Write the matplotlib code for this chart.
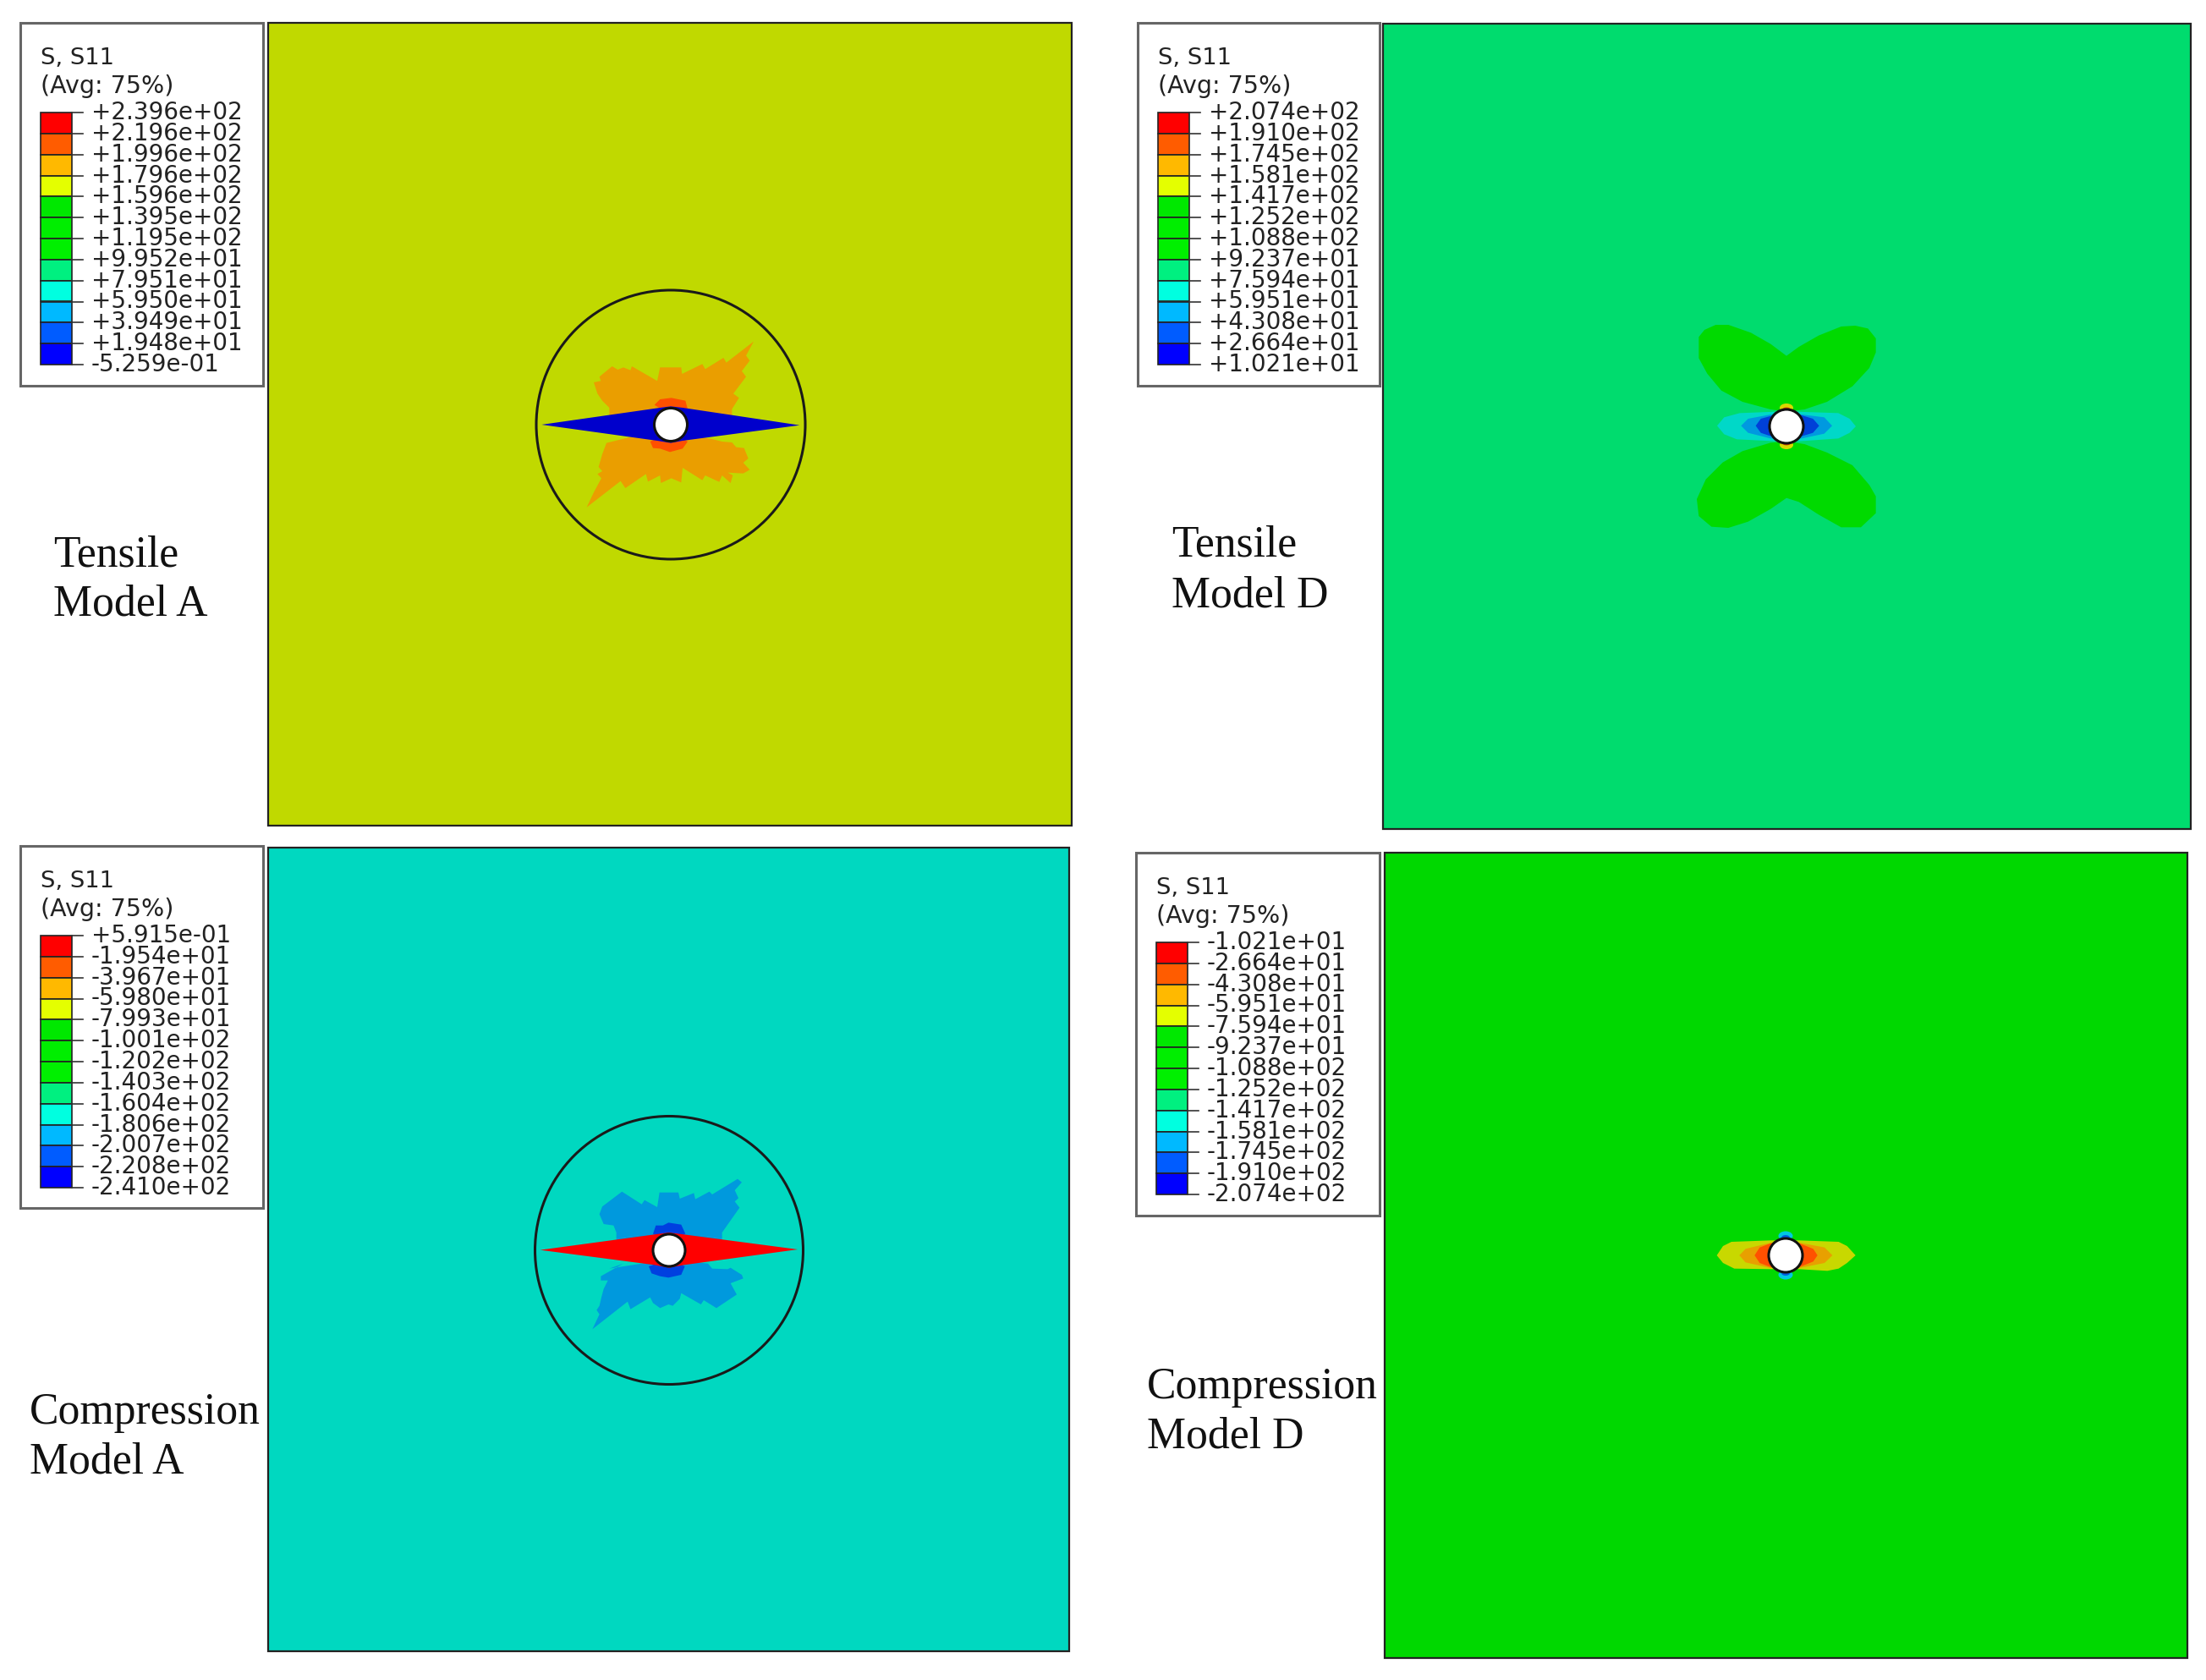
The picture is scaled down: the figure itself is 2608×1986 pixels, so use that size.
import matplotlib
matplotlib.use("Agg")
import matplotlib.pyplot as plt
from matplotlib.patches import Rectangle, Polygon, Circle, Ellipse

W, H = 2608, 1986
title_1 = "S, S11"
title_2 = "(Avg: 75%)"

labels_ta = ["+2.396e+02","+2.196e+02","+1.996e+02","+1.796e+02","+1.596e+02","+1.395e+02","+1.195e+02",
             "+9.952e+01","+7.951e+01","+5.950e+01","+3.949e+01","+1.948e+01","-5.259e-01"]
labels_td = ["+2.074e+02","+1.910e+02","+1.745e+02","+1.581e+02","+1.417e+02","+1.252e+02","+1.088e+02",
             "+9.237e+01","+7.594e+01","+5.951e+01","+4.308e+01","+2.664e+01","+1.021e+01"]
labels_ca = ["+5.915e-01","-1.954e+01","-3.967e+01","-5.980e+01","-7.993e+01","-1.001e+02","-1.202e+02",
             "-1.403e+02","-1.604e+02","-1.806e+02","-2.007e+02","-2.208e+02","-2.410e+02"]
labels_cd = ["-1.021e+01","-2.664e+01","-4.308e+01","-5.951e+01","-7.594e+01","-9.237e+01","-1.088e+02",
             "-1.252e+02","-1.417e+02","-1.581e+02","-1.745e+02","-1.910e+02","-2.074e+02"]
band_colors = ["#ff0000","#ff5c00","#ffb900","#e4ff00","#00e800","#00ee00","#00f000",
               "#00f080","#00ffe0","#00b9ff","#005cff","#0000ff"]

ta_orange_up = [(245,365),(270,360),(265,345),(310,308),(330,320),(350,312),(375,322),(380,308),(470,360),(480,312),
                (555,312),(558,335),(630,300),(640,318),(705,278),(715,295),(812,220),(785,270),(798,288),(770,325),
                (785,345),(740,405),(760,420),(735,460),(735,483),(518,490),(300,483),(300,455),(275,430),(258,405)]
ta_orange_lo = [(290,580),(275,620),(262,665),(275,680),(258,690),(272,705),(245,755),(220,808),(340,715),(357,740),
                (430,690),(437,717),(480,695),(483,722),(520,705),(555,720),(560,668),(630,712),(640,695),(690,718),
                (700,695),(730,722),(738,695),(720,685),(775,688),(798,675),(775,650),(793,635),(778,598),(750,595),
                (735,578),(700,575),(660,565),(518,540),(370,560)]
ta_red_up = [(460,445),(480,425),(520,420),(570,430),(578,460),(518,480)]
ta_red_lo = [(445,575),(455,598),(480,600),(515,612),(560,600),(578,575),(518,540)]
ta_diamond = [(60,515),(480,455),(518,450),(560,455),(975,517),(560,572),(518,580),(470,572)]

ca_blue_up = [(265,375),(275,348),(345,295),(415,340),(425,325),(470,350),(478,298),(545,298),(550,320),(600,300),
              (605,322),(655,295),(665,305),(755,250),(770,262),(745,290),(758,318),(745,330),(762,352),(700,440),
              (700,470),(512,480),(325,470),(325,440),(315,415),(280,410)]
ca_blue_lo = [(300,568),(350,550),(270,595),(270,610),(295,610),(280,640),(272,670),(265,700),(255,715),(265,730),
              (240,783),(365,685),(375,712),(445,670),(455,690),(480,708),(510,695),(525,700),(550,675),(555,655),
              (625,695),(635,680),(680,708),(752,660),(730,620),(775,603),(770,590),(730,565),(720,570),(665,568),
              (650,550),(512,535)]
ca_dark_up = [(455,445),(465,415),(490,415),(510,405),(555,412),(570,445),(512,470)]
ca_dark_lo = [(440,560),(450,585),(480,595),(510,600),(555,590),(568,560),(512,535)]
ca_diamond = [(55,502),(460,447),(512,440),(565,447),(968,500),(565,555),(512,565),(460,555)]

td_lobe_up = [(456,182),(400,140),(330,100),(250,72),(205,72),(165,90),(145,115),(145,190),(175,245),(225,305),
              (300,345),(400,372),(456,380),(520,372),(600,345),(690,290),(750,225),(773,170),(773,120),(745,85),
              (700,75),(650,78),(570,110),(500,150)]
td_lobe_lo = [(456,686),(400,725),(320,770),(250,792),(190,788),(145,750),(138,690),(170,620),(230,560),(300,520),
              (400,490),(456,485),(520,495),(600,525),(690,570),(750,640),(773,680),(773,740),(720,790),(650,790),
              (570,745),(500,700)]
td_cyan = [(210,430),(235,400),(290,385),(420,380),(490,380),(640,385),(680,405),(702,432),(680,455),(640,475),
           (500,485),(420,485),(280,478),(235,460)]
td_blue = [(295,430),(320,405),(400,390),(510,390),(590,400),(618,430),(590,458),(510,475),(400,475),(320,455)]
td_dark = [(347,430),(365,405),(420,390),(500,390),(550,405),(572,430),(550,455),(500,470),(410,470),(365,455)]

cd_yellow = [(88,163),(110,130),(140,115),(280,110),(380,110),(520,115),(550,130),(580,163),(550,190),(520,210),
             (480,218),(380,212),(280,212),(150,210),(110,190)]
cd_orange = [(168,163),(190,140),(280,118),(380,118),(470,135),(498,163),(470,190),(380,208),(280,208),(190,188)]
cd_red = [(222,163),(240,135),(280,120),(380,120),(430,140),(445,163),(430,185),(380,205),(280,205),(240,190)]

fig = plt.figure(figsize=(W/100, H/100), dpi=100, facecolor="white")
ax = fig.add_axes([0, 0, 1, 1])
ax.set_xlim(0, W); ax.set_ylim(H, 0); ax.axis("off")


def panel(x0, y0, x1, y1, color):
    ax.add_patch(Rectangle((x0, y0), x1-x0, y1-y0, fc=color, ec="#222222", lw=1.6, zorder=1))


def outline(pts, o, c, color, z=3):
    ax.add_patch(Polygon([(c[0]+(x-o[0])/3, c[1]+(y-o[1])/3) for x, y in pts], closed=True,
                         fc=color, ec="none", zorder=z))


def blob(c, dx, dy, w, h, color, z=3):
    ax.add_patch(Ellipse((c[0]+dx, c[1]+dy), w, h, fc=color, ec="none", zorder=z))


def hole(c, r):
    ax.add_patch(Circle(c, r, fc="white", ec="#111111", lw=2.2, zorder=8))


def ring(c, r):
    ax.add_patch(Circle(c, r, fc="none", ec="#1a1a1a", lw=2.2, zorder=7))


def legend(x0, y0, x1, y1, labels):
    ax.add_patch(Rectangle((x0, y0), x1-x0, y1-y0, fc="white", ec="#666666", lw=2.2, zorder=9))
    bx, by, bw, step = x0+24, y0+106, 37, 298/12
    ax.text(bx, y0+42, title_1, fontsize=19.7, va="center", ha="left", color="#222222", zorder=11)
    ax.text(bx, y0+75, title_2, fontsize=20.5, va="center", ha="left", color="#222222", zorder=11)
    for i, col in enumerate(band_colors):
        ax.add_patch(Rectangle((bx, by+i*step), bw, step, fc=col, ec="#222222", lw=1.2, zorder=10))
    for i, lab in enumerate(labels):
        y = by+i*step
        ax.plot([bx+bw, bx+bw+13], [y, y], color="#333333", lw=1.2, zorder=10)
        ax.text(x0+84, y, lab, fontsize=20, va="center", ha="left", color="#222222", zorder=11)


def caption(x, y1, y2, a, b):
    ax.text(x, y1, a, family="Liberation Serif", fontsize=37.3, va="center", ha="left", color="#111111", zorder=12)
    ax.text(x, y2, b, family="Liberation Serif", fontsize=37.3, va="center", ha="left", color="#111111", zorder=12)


# Tensile model A
c = (793, 502); o = (518, 515)
panel(317, 27, 1267, 976, "#c0d900")
outline(ta_orange_up, o, c, "#ea9e00"); outline(ta_orange_lo, o, c, "#ea9e00")
outline(ta_red_up, o, c, "#ff5000", 4); outline(ta_red_lo, o, c, "#ff5000", 4)
outline(ta_diamond, o, c, "#0000cc", 5)
ring(c, 159); hole(c, 19.5)
legend(24, 27, 311, 456, labels_ta)
caption(63, 656, 715, "Tensile", "Model A")

# Tensile model D
c = (2112, 504); o = (456, 432)
panel(1635, 28, 2590, 980, "#00dc6e")
outline(td_lobe_up, o, c, "#00da00"); outline(td_lobe_lo, o, c, "#00da00")
outline(td_cyan, o, c, "#00d8c8", 4)
outline(td_blue, o, c, "#0099e0", 5)
outline(td_dark, o, c, "#0040d8", 6)
for s in (-1, 1):
    blob(c, 0, s*22, 16, 10, "#d8d800", 4)
    blob(c, 0, s*20, 10, 5, "#e85000", 5)
hole(c, 20)
legend(1345, 27, 1631, 456, labels_td)
caption(1385, 645, 704, "Tensile", "Model D")

# Compression model A
c = (791, 1478); o = (512, 503)
panel(317, 1002, 1264, 1952, "#00d8c0")
outline(ca_blue_up, o, c, "#0099dd"); outline(ca_blue_lo, o, c, "#0099dd")
outline(ca_dark_up, o, c, "#0040e0", 4); outline(ca_dark_lo, o, c, "#0040e0", 4)
outline(ca_diamond, o, c, "#ff0000", 5)
ring(c, 158.5); hole(c, 19)
legend(24, 1000, 311, 1428, labels_ca)
caption(35, 1670, 1729, "Compression", "Model A")

# Compression model D
c = (2111, 1484); o = (332, 163)
panel(1637, 1008, 2586, 1960, "#00d800")
outline(cd_yellow, o, c, "#c8d800", 4)
outline(cd_orange, o, c, "#e8a000", 5)
outline(cd_red, o, c, "#ff5000", 6)
for s in (-1, 1):
    blob(c, 0, s*23, 17, 11, "#00c8e0", 4)
    blob(c, 0, s*21, 10, 6, "#0060e0", 5)
hole(c, 20)
legend(1343, 1008, 1631, 1437, labels_cd)
caption(1356, 1640, 1699, "Compression", "Model D")

fig.savefig("out.png", dpi=100, facecolor="white")
